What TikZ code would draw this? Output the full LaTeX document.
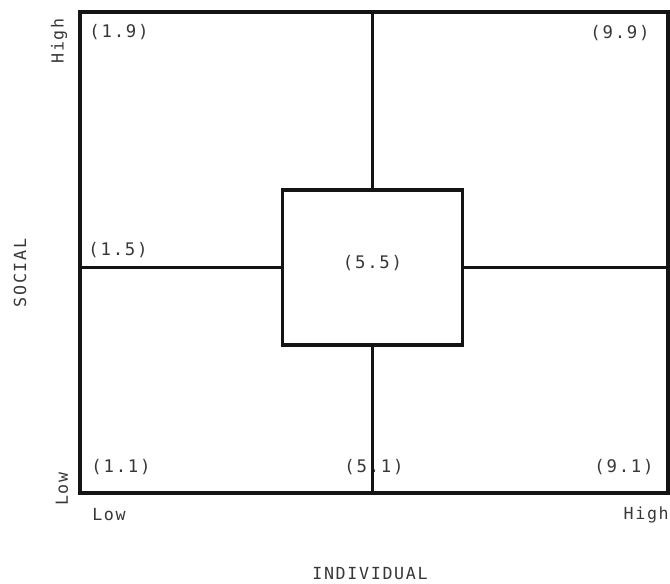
\documentclass[tikz,border=0pt]{standalone}
\usepackage{fontspec}
\usetikzlibrary{calc, positioning}
\newfontfamily\gridfont[LetterSpace=10]{DejaVu Sans Mono}
\definecolor{gridink}{HTML}{141414}

\begin{document}
\begin{tikzpicture}[
    x=0.75pt, y=-0.75pt,
    frameline/.style={line width=2.8pt, gridink, line cap=rect},
    lbl/.style={font=\gridfont\fontsize{13}{15}\selectfont, text=gridink!85, inner sep=0pt},
    axislbl/.style={lbl, font=\gridfont\fontsize{12.5}{15}\selectfont}
]

% 1. Page size (pixels of the reference)
\useasboundingbox (0,0) rectangle (670,584);

% 2. Outer frame corners
\coordinate (tl) at (80,12);
\coordinate (tr) at (668,12);
\coordinate (bl) at (80,493);
\coordinate (br) at (668,493);

% 3. Grid labels
\node[lbl] (g19) at (119,32) {(1.9)};
\node[lbl] (g99) at (620,33) {(9.9)};
\node[lbl] (g15) at (118,250) {(1.5)};
\node[lbl] (g11) at (121,467) {(1.1)};
\node[lbl] (g51) at (374,467) {(5.1)};
\node[lbl] (g91) at (624,467) {(9.1)};

% 4. Centre box (5.5)
\node[draw=gridink, line width=2.8pt, minimum width=135pt, minimum height=116pt,
      lbl, text depth=9pt] (mid) at (372.5,267.5) {(5.5)};

% 5. Frame and cross lines
\draw[frameline] (tl) -- (tr) -- (br) -- (bl) -- cycle;
\draw[frameline] (mid.north) -- (mid.north |- tl);
\draw[frameline] (mid.south) -- (mid.south |- bl);
\draw[frameline] (mid.west) -- (mid.west -| tl);
\draw[frameline] (mid.east) -- (mid.east -| tr);

% 6. Axis labels
\node[axislbl] (xlow) at (109,515) {Low};
\node[axislbl, anchor=east] (xhigh) at (669,515) {High};
\node[axislbl] (xname) at (370,574) {INDIVIDUAL};
\node[axislbl, rotate=90] (yhigh) at (59,41) {High};
\node[axislbl, rotate=90] (ylow) at (62,489) {Low};
\node[axislbl, rotate=90] (yname) at (20,273) {SOCIAL};

\end{tikzpicture}
\end{document}
